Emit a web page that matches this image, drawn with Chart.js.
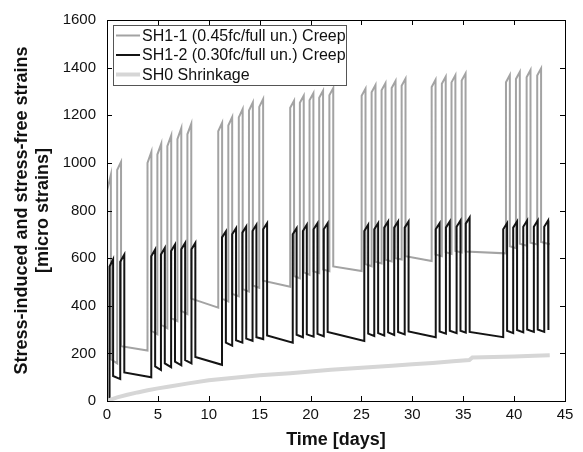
<!DOCTYPE html>
<html>
<head>
<meta charset="utf-8">
<script src="https://cdn.jsdelivr.net/npm/chart.js@4.4.0/dist/chart.umd.min.js"></script>
<style>
  html, body { margin: 0; padding: 0; background: #fff; }
  #wrap { width: 583px; height: 452px; }
</style>
</head>
<body>
<div id="wrap"><canvas id="strainChart" width="583" height="452"></canvas></div>
<script>
const xTicks = [0, 5, 10, 15, 20, 25, 30, 35, 40, 45];
const yTicks = [0, 200, 400, 600, 800, 1000, 1200, 1400, 1600];

const seriesNames = ['SH1-1 (0.45fc/full un.) Creep', 'SH1-2 (0.30fc/full un.) Creep', 'SH0 Shrinkage'];

// SH1-1: load-on / load-off times [days] and strains at the corners of each cycle
const sh11On = [0.02, 1.0, 3.98, 4.95, 5.93, 6.92, 7.9, 10.93, 11.92, 12.95, 13.95, 14.96, 18.0, 18.95, 19.9, 20.85, 21.85, 25.02, 26.0, 26.98, 27.97, 28.95, 31.9, 32.9, 33.85, 34.85, 39.2, 40.18, 41.23, 42.27];
const sh11Off = [0.38, 1.38, 4.36, 5.33, 6.31, 7.3, 8.28, 11.31, 12.3, 13.33, 14.33, 15.34, 18.38, 19.33, 20.28, 21.23, 22.23, 25.4, 26.38, 27.36, 28.35, 29.33, 32.28, 33.28, 34.23, 35.23, 39.58, 40.56, 41.61, 42.65];
const sh11Start = [885, 970, 1000, 1035, 1070, 1100, 1120, 1133, 1157, 1191, 1220, 1235, 1231, 1252, 1263, 1273, 1284, 1282, 1297, 1305, 1314, 1324, 1319, 1332, 1338, 1346, 1339, 1352, 1360, 1367];
const sh11Peak = [950, 1004, 1046, 1080, 1115, 1146, 1164, 1168, 1192, 1226, 1254, 1268, 1261, 1282, 1293, 1303, 1314, 1312, 1327, 1335, 1344, 1354, 1349, 1362, 1368, 1376, 1369, 1382, 1390, 1397];
const sh11Drop = [175, 230, 295, 320, 348, 378, 430, 430, 450, 470, 485, 505, 525, 540, 545, 552, 565, 575, 585, 593, 600, 608, 615, 625, 630, 628, 650, 660, 665, 668];
const sh11End = [158, 212, 280, 305, 335, 365, 392, 418, 440, 460, 475, 480, 515, 530, 537, 545, 546, 566, 578, 586, 594, 588, 608, 618, 624, 620, 642, 652, 657, 658];
const sh11LastT = 43.5;

// SH1-2
const sh12On = [0.25, 1.3, 4.35, 5.3, 6.3, 7.3, 8.3, 11.3, 12.3, 13.3, 14.3, 15.35, 18.25, 19.25, 20.3, 21.3, 25.28, 26.26, 27.24, 28.22, 29.25, 32.3, 33.3, 34.35, 35.25, 38.93, 39.91, 40.9, 41.94, 42.96];
const sh12Off = [0.6, 1.7, 4.73, 5.68, 6.68, 7.68, 8.68, 11.68, 12.68, 13.68, 14.68, 15.73, 18.63, 19.63, 20.68, 21.68, 25.66, 26.64, 27.62, 28.6, 29.63, 32.68, 33.68, 34.73, 35.63, 39.31, 40.29, 41.28, 42.32, 43.34];
const sh12Start = [565, 585, 608, 615, 630, 637, 637, 687, 700, 707, 714, 721, 700, 714, 721, 721, 714, 721, 728, 728, 728, 721, 728, 732, 745, 721, 728, 732, 732, 732];
const sh12Peak = [595, 615, 636, 643, 657, 664, 664, 712, 726, 733, 740, 747, 726, 740, 747, 747, 740, 747, 754, 754, 754, 747, 754, 758, 771, 747, 754, 758, 758, 758];
const sh12Drop = [105, 120, 145, 158, 165, 172, 185, 245, 255, 262, 268, 275, 278, 280, 282, 290, 283, 285, 288, 290, 292, 292, 295, 295, 290, 295, 298, 300, 300, 305];
const sh12End = [92, 100, 130, 142, 150, 158, 152, 232, 245, 253, 260, 245, 268, 270, 272, 252, 273, 275, 277, 280, 268, 283, 285, 287, 268, 285, 288, 290, 290, 298];
const sh12LastT = 43.4;

// SH0 shrinkage
const sh0Time = [0, 0.5, 1, 2, 3, 4, 5, 6, 8, 10, 12, 15, 18, 20, 22, 25, 28, 30, 32, 34, 35.6, 35.9, 38, 40, 42, 43.5];
const sh0Strain = [0, 8, 15, 26, 36, 45, 53, 60, 74, 87, 96, 108, 117, 124, 131, 140, 148, 154, 160, 167, 172, 183, 185, 187, 190, 192];

function cyclePoints(on, off, start, peak, drop, end, lastT) {
  const pts = [{x: 0, y: 0}, {x: on[0], y: 0}];
  for (let i = 0; i < on.length; i++) {
    const nextT = i + 1 < on.length ? on[i + 1] : lastT;
    pts.push({x: on[i], y: start[i]});
    pts.push({x: off[i], y: peak[i]});
    pts.push({x: off[i], y: drop[i]});
    pts.push({x: nextT, y: end[i]});
  }
  return pts;
}

const colors = ['#a3a3a3', '#141414', '#d6d6d6'];
const widths = [2, 2, 4];
const fontFamily = '"Liberation Sans", Arial, sans-serif';

const frameAndLegend = {
  id: 'frameAndLegend',
  afterDatasetsDraw(chart) {
    const ctx = chart.ctx;
    const {left, right, top, bottom} = chart.chartArea;
    const xs = chart.scales.x, ys = chart.scales.y;
    ctx.save();
    ctx.strokeStyle = '#000';
    ctx.lineWidth = 1;
    ctx.strokeRect(Math.round(left) + 0.5, Math.round(top) + 0.5, Math.round(right - left), Math.round(bottom - top));
    ctx.beginPath();
    xTicks.forEach(v => {
      const px = Math.round(xs.getPixelForValue(v)) + 0.5;
      ctx.moveTo(px, bottom); ctx.lineTo(px, bottom - 5);
      ctx.moveTo(px, top); ctx.lineTo(px, top + 5);
    });
    yTicks.forEach(v => {
      const py = Math.round(ys.getPixelForValue(v)) + 0.5;
      ctx.moveTo(left, py); ctx.lineTo(left + 5, py);
      ctx.moveTo(right, py); ctx.lineTo(right - 5, py);
    });
    ctx.stroke();

    // legend box, top-left inside the axes
    const bx = left + 6, by = top + 5, bw = 233, bh = 60;
    ctx.fillStyle = '#fff';
    ctx.fillRect(bx, by, bw, bh);
    ctx.strokeStyle = '#555';
    ctx.strokeRect(bx + 0.5, by + 0.5, bw, bh);
    ctx.font = '16px ' + fontFamily;
    ctx.textBaseline = 'middle';
    seriesNames.forEach((name, i) => {
      const y = by + 10.5 + i * 19.5;
      ctx.strokeStyle = colors[i];
      ctx.lineWidth = widths[i];
      ctx.beginPath();
      ctx.moveTo(bx + 3, y); ctx.lineTo(bx + 27, y);
      ctx.stroke();
      ctx.fillStyle = '#111';
      ctx.fillText(name, bx + 29, y + 1);
    });
    ctx.restore();
  }
};

new Chart(document.getElementById('strainChart'), {
  type: 'scatter',
  data: {
    datasets: [
      {
        label: seriesNames[0],
        data: cyclePoints(sh11On, sh11Off, sh11Start, sh11Peak, sh11Drop, sh11End, sh11LastT),
        borderColor: colors[0], borderWidth: widths[0], showLine: true, pointRadius: 0, tension: 0, order: 3
      },
      {
        label: seriesNames[1],
        data: cyclePoints(sh12On, sh12Off, sh12Start, sh12Peak, sh12Drop, sh12End, sh12LastT),
        borderColor: colors[1], borderWidth: widths[1], showLine: true, pointRadius: 0, tension: 0, order: 2
      },
      {
        label: seriesNames[2],
        data: sh0Time.map((t, i) => ({x: t, y: sh0Strain[i]})),
        borderColor: colors[2], borderWidth: widths[2], showLine: true, pointRadius: 0, tension: 0, order: 1
      }
    ]
  },
  options: {
    responsive: false,
    animation: false,
    events: [],
    layout: { padding: { left: 0, right: 18, top: 17, bottom: 0 } },
    plugins: { legend: { display: false }, tooltip: { enabled: false } },
    scales: {
      x: {
        type: 'linear', min: 0, max: 45,
        afterBuildTicks: s => { s.ticks = xTicks.map(v => ({value: v})); },
        afterFit: s => { s.height = 51; },
        grid: { display: false, drawTicks: false },
        border: { display: false },
        ticks: { padding: 5, color: '#111', maxRotation: 0, callback: v => String(v), font: { size: 15, family: fontFamily } },
        title: {
          display: true, text: 'Time [days]', color: '#111',
          padding: { top: 0, bottom: 1 },
          font: { size: 18, weight: 'bold', family: fontFamily, lineHeight: 1.2 }
        }
      },
      y: {
        type: 'linear', min: 0, max: 1600,
        afterBuildTicks: s => { s.ticks = yTicks.map(v => ({value: v})); },
        afterFit: s => { s.width = 107; },
        grid: { display: false, drawTicks: false },
        border: { display: false },
        ticks: { padding: 11, color: '#111', callback: v => String(v), font: { size: 15, family: fontFamily } },
        title: {
          display: true, text: ['Stress-induced and stress-free strains', '[micro strains]'], color: '#111',
          padding: { top: 12, bottom: 0 },
          font: { size: 18, weight: 'bold', family: fontFamily, lineHeight: 1.15 }
        }
      }
    }
  },
  plugins: [frameAndLegend]
});
</script>
</body>
</html>
